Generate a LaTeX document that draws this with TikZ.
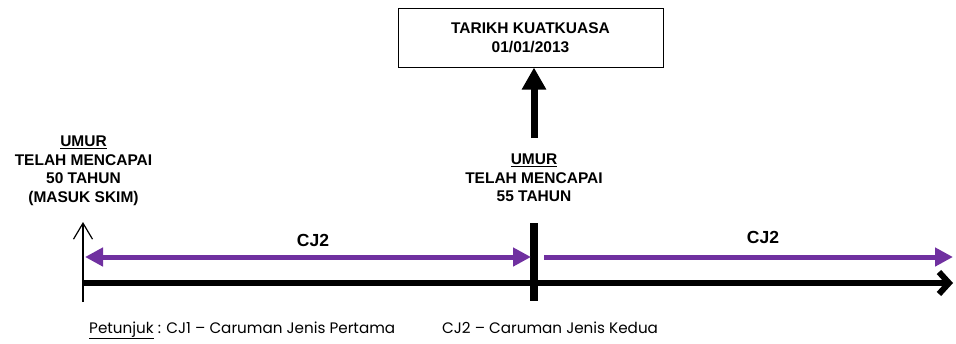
\documentclass[tikz,border=0pt]{standalone}
\usepackage{fontspec}
\setmainfont{Liberation Sans}
\newfontfamily\notefont{Poppins}
\usepackage{xcolor}
\usetikzlibrary{arrows.meta,positioning}
\definecolor{cjpurple}{HTML}{7030A0}

\begin{document}
\begin{tikzpicture}[x=1pt,y=-1pt,
	heading/.style={font=\bfseries\fontsize{15.5}{18.5}\selectfont,align=center,inner sep=0pt},
	cjtext/.style={font=\bfseries\fontsize{17.5}{20}\selectfont,inner sep=0pt},
	cjline/.style={cjpurple,line width=5pt},
	note/.style={font=\notefont\fontsize{15.2}{17}\selectfont,inner sep=0pt,anchor=base west}]
	\useasboundingbox (0,0) rectangle (956,343);
	
	% kotak tarikh
	\node[draw,line width=1pt,minimum width=265pt,minimum height=59pt,heading] (tarikh) at (530.5,37.5) {TARIKH KUATKUASA\\01/01/2013};
	
	% label umur
	\node[heading] (umur50) at (83.5,171) {\underline{UMUR}\\TELAH MENCAPAI\\50 TAHUN\\(MASUK SKIM)};
	\node[heading] (umur55) at (534,178) {\underline{UMUR}\\TELAH MENCAPAI\\55 TAHUN};
	
	\coordinate (mula) at (83,283);
	\coordinate (akhir) at (953,283);
	\coordinate (bawah50) at (83,302);
	\coordinate (atas50) at (83,222);
	\coordinate (atas55) at (534,223);
	\coordinate (bawah55) at (534,301);
	\coordinate (pangkal) at (534,138);
	\coordinate (cjA) at (85,257);
	\coordinate (cjB) at (531,257);
	\coordinate (cjC) at (544,257);
	\coordinate (cjD) at (953,257);
	
	% garis masa
	\draw[line width=6pt,-{Straight Barb[length=10pt,width=22pt]}] (mula) -- (akhir);
	\draw[line width=1.2pt,-{Straight Barb[length=16pt,width=19pt]}] (bawah50) -- (atas50);
	\draw[line width=8pt] (atas55) -- (bawah55);
	\draw[line width=7pt,-{Triangle[length=22pt,width=23pt]}] (pangkal) -- (tarikh.south -| pangkal);
	
	% CJ2
	\draw[cjline,{Triangle[length=18pt,width=18pt]}-{Triangle[length=18pt,width=18pt]}] (cjA) -- (cjB);
	\draw[cjline,-{Triangle[length=18pt,width=18pt]}] (cjC) -- (cjD);
	\node[cjtext] (cj2kiri) at (313,240) {CJ2};
	\node[cjtext] (cj2kanan) at (763,237) {CJ2};
	
	% petunjuk
	\node[note] (petunjuk) at (89,333) {\underline{Petunjuk} : CJ1 – Caruman Jenis Pertama};
	\node[note] (kedua) at (442,333) {CJ2 – Caruman Jenis Kedua};
\end{tikzpicture}
\end{document}
